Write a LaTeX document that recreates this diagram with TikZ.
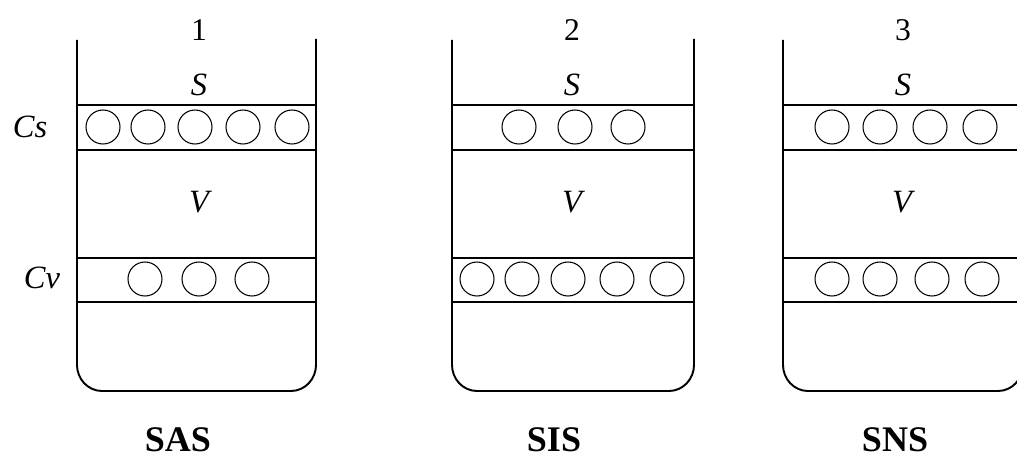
\documentclass[tikz,border=0pt]{standalone}
\usepackage{fontspec}
\setmainfont{Liberation Serif}
\tikzset{
  wall/.style={draw=black, line width=1.1pt},
  band/.style={draw=black, line width=1.0pt},
  grain/.style={draw=black, line width=0.6pt},
  numlabel/.style={font=\fontsize{18}{21}\selectfont},
  layerlabel/.style={font=\fontsize{18.5}{22}\selectfont\itshape},
  typelabel/.style={font=\fontsize{20.5}{24}\selectfont\bfseries}
}

\begin{document}
\begin{tikzpicture}[x=0.02cm, y=-0.02cm]
  \useasboundingbox (0,0) rectangle (1017,459);
  \clip (0,0) rectangle (1017,459);

  % Vessels with rounded bottoms and the two layer bands
  \foreach \xl/\xr in {77/316, 452/694, 783/1023} {
    \draw[wall] (\xl,40) -- (\xl,365)
      .. controls (\xl,379) and (\xl+11,391) .. (\xl+25,391) -- (\xr-25,391)
      .. controls (\xr-11,391) and (\xr,379) .. (\xr,365) -- (\xr,39);
    \foreach \yb in {105,150,258,302}
      \draw[band] (\xl,\yb) -- (\xr,\yb);
  }

  % Particles in the S band (row 127) and the V band (row 279)
  \foreach \xc in {103,148,195,243,292, 519,575,628, 832,880,930,980}
    \draw[grain] (\xc,127) circle (17);
  \foreach \xc in {145,199,252, 477,522,568,617,667, 832,880,932,982}
    \draw[grain] (\xc,279) circle (17);

  \node[numlabel] (n1) at (199,30) {1};
  \node[numlabel] (n2) at (572,30) {2};
  \node[numlabel] (n3) at (903,30) {3};

  \node[layerlabel] (s1) at (199,85) {S};
  \node[layerlabel] (s2) at (572,85) {S};
  \node[layerlabel] (s3) at (903,85) {S};
  \node[layerlabel] (v1) at (199,202) {V};
  \node[layerlabel] (v2) at (572,202) {V};
  \node[layerlabel] (v3) at (902,202) {V};

  \node[layerlabel] (cs) at (30,127) {Cs};
  \node[layerlabel] (cv) at (42,278) {Cv};

  \node[typelabel] (sas) at (178,440) {SAS};
  \node[typelabel] (sis) at (554,440) {SIS};
  \node[typelabel] (sns) at (895,440) {SNS};
\end{tikzpicture}
\end{document}
